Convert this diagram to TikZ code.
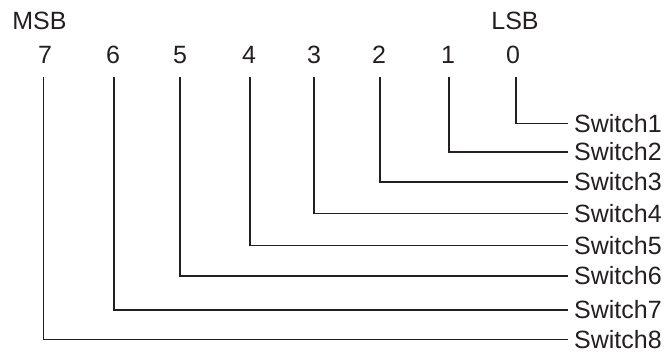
\documentclass[tikz,border=0pt]{standalone}
\usepackage{fontspec}
\setmainfont{Liberation Sans}
\begin{document}
\begin{tikzpicture}[x=1pt,y=-1pt,
  lbl/.style={font=\fontsize{25}{30}\selectfont, inner sep=0pt, text=ink},
  swlbl/.style={lbl, anchor=west, inner xsep=6pt},
  wire/.style={draw=ink, line width=1.5pt}]
\definecolor{ink}{HTML}{231F20}
\useasboundingbox (0,0) rectangle (668,352);
\node[lbl] (msb) at (39.5,21) {MSB};
\node[lbl] (lsb) at (515,21) {LSB};
\foreach \d/\x in {7/45,6/113,5/180,4/249,3/314,2/379,1/448,0/513}
  \node[lbl] (d\d) at (\x,55) {\d};
\foreach \s/\y in {1/123.5,2/152,3/182,4/213.5,5/245.5,6/276,7/310,8/339.5}
  \node[swlbl] (s\s) at (568,\y) {Switch\s};
\foreach \d/\x in {7/43.5,6/114,5/180,4/250,3/314,2/380,1/449,0/516}
  \coordinate (t\d) at (\x,77);
\foreach \d/\s in {0/1,1/2,2/3,3/4,4/5,5/6,6/7,7/8}
  \draw[wire] (t\d) |- (s\s.west);
\end{tikzpicture}
\end{document}
